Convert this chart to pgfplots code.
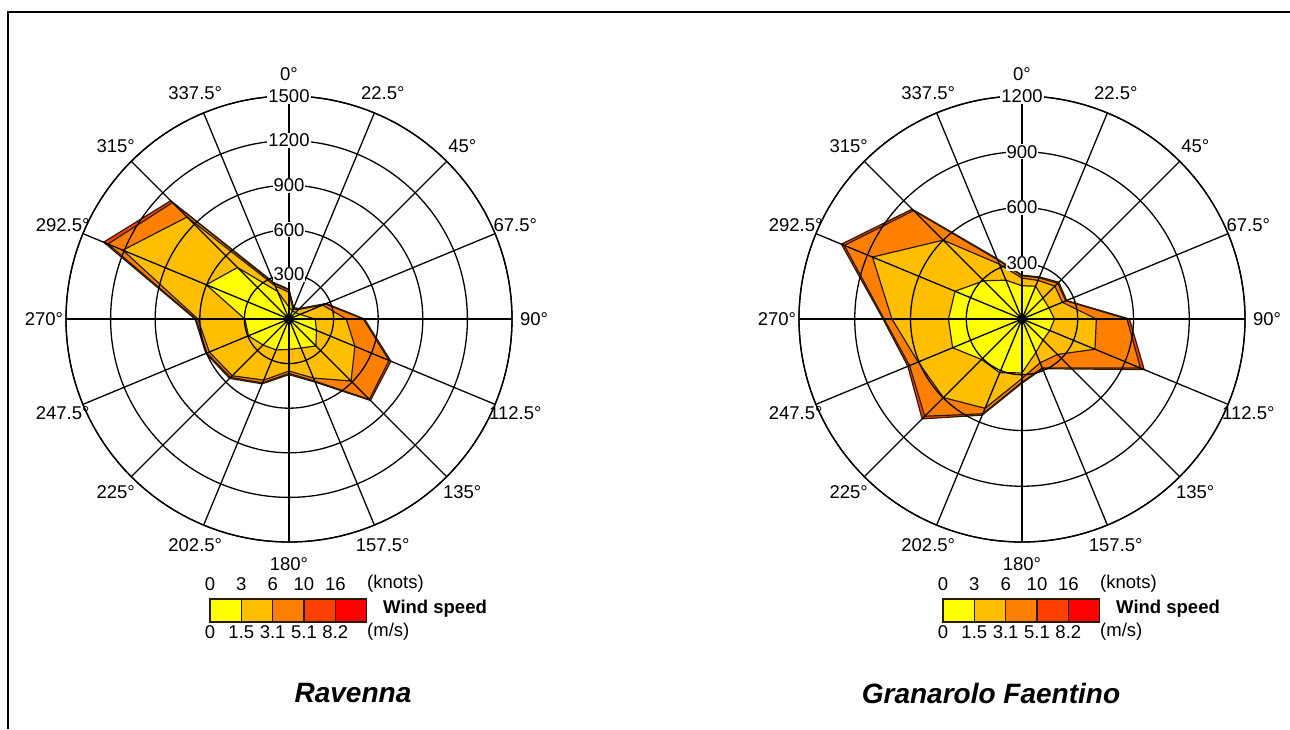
\documentclass[border=0pt]{standalone}
\usepackage{fontspec}
\setmainfont{Liberation Sans}
\usepackage{pgfplots}
\usepackage{pgfplotstable}
\pgfplotsset{compat=1.18}
\usepgfplotslibrary{polar}

\definecolor{wY}{HTML}{FFFF00}
\definecolor{wLO}{HTML}{FFBF00}
\definecolor{wO}{HTML}{FF8000}
\definecolor{wRO}{HTML}{FF4000}
\definecolor{wR}{HTML}{FF0000}
\definecolor{edge}{HTML}{2A1A00}

% a = polar angle (90 - compass direction); L1..L4 cumulative counts per wind speed class
\pgfplotstableread{
a L1 L2 L3 L4
90 80 180 194 200
67.5 60 70 78 82
45 60 90 97 100
22.5 80 245 265 272
0 176 385 500 508
337.5 200 480 728 742
315 256 590 765 775
292.5 211 430 452 460
270 205 350 366 374
247.5 225 445 465 472
225 247 540 556 565
202.5 295 580 598 605
180 297 613 626 632
157.5 602 1210 1318 1350
135 490 970 1108 1125
112.5 200 240 258 265
90 80 180 194 200
}\ravenna

\pgfplotstableread{
a L1 L2 L3 L4
90 179 220 232 236
67.5 191 225 240 245
45 159 250 272 280
22.5 157 235 255 260
0 175 400 565 578
337.5 162 425 690 712
315 160 270 372 380
292.5 195 255 285 290
270 290 320 340 345
247.5 313 520 552 560
225 308 598 740 760
202.5 404 605 655 665
180 396 700 742 748
157.5 390 871 1035 1052
135 291 600 825 836
112.5 226 320 345 352
90 179 220 232 236
}\granarolo

\pgfplotsset{
  roseaxis/.style={
    anchor=center,
    scale only axis, width=446pt, height=446pt,
    xmin=0, xmax=360, ymin=0,
    xtick={0,22.5,...,337.5}, xticklabels={},
    yticklabels={},
    grid=major,
    major grid style={black, line width=1.3pt},
    axis line style={black, line width=1.3pt},
    major tick length=0pt,
    extra x ticks={0,90,180,270}, extra x tick labels={},
    extra x tick style={grid=major, major grid style={black, line width=1.9pt}},
    axis on top, clip=false,
  },
  layer/.style={draw=edge, line width=1.2pt, line join=round, fill=#1},
}

\tikzset{
  lab/.style={font=\fontsize{18.5}{21}\selectfont, inner sep=1pt},
  ylab/.style={font=\fontsize{18.5}{21}\selectfont, fill=white, inner sep=1pt},
}

\begin{document}
\begin{tikzpicture}[x=1pt,y=1pt]
\path[use as bounding box] (0,0) rectangle (1290,729);
\draw[line width=2pt] (8,0) -- (8,717) -- (1290,717);

% ---------- Ravenna ----------
\begin{polaraxis}[roseaxis, at={(289pt,410pt)}, ymax=1500, ytick={300,600,...,1500}]
\addplot[layer=wRO] table[x=a,y=L4]{\ravenna};
\addplot[layer=wO]  table[x=a,y=L3]{\ravenna};
\addplot[layer=wLO] table[x=a,y=L2]{\ravenna};
\addplot[layer=wY]  table[x=a,y=L1]{\ravenna};
\end{polaraxis}

% ---------- Granarolo Faentino ----------
\begin{polaraxis}[roseaxis, at={(1022pt,410pt)}, ymax=1200, ytick={300,600,...,1200}]
\addplot[layer=wRO] table[x=a,y=L4]{\granarolo};
\addplot[layer=wO]  table[x=a,y=L3]{\granarolo};
\addplot[layer=wLO] table[x=a,y=L2]{\granarolo};
\addplot[layer=wY]  table[x=a,y=L1]{\granarolo};
\end{polaraxis}

% direction labels
\foreach \cx in {289,1022}{
  \foreach \c in {0,22.5,45,67.5,90,112.5,135,157.5,180,202.5,225,247.5,270,292.5,315,337.5}{
    \node[lab] at ([shift={(\cx,410)}]{90-\c}:245) {\c°};
  }
}
% radial value labels
\foreach \v in {300,600,900,1200,1500}{
  \node[ylab] at (289,{410+\v/1500*223}) {\v};
}
\foreach \v in {300,600,900,1200}{
  \node[ylab] at (1022,{410+\v/1200*223}) {\v};
}

% legends
\foreach \dx in {0,733}{
  \begin{scope}[xshift=\dx]
    \foreach \i/\col in {0/wY,1/wLO,2/wO,3/wRO,4/wR}{
      \fill[\col] ({210+\i*31.33},107) rectangle ({210+(\i+1)*31.33},130);
      \draw[line width=1.4pt, edge] ({210+\i*31.33},107) rectangle ({210+(\i+1)*31.33},130);
    }
    \foreach \i/\t in {0/0,1/3,2/6,3/10,4/16}{
      \node[lab] at ({210+\i*31.33},145) {\t};
    }
    \foreach \i/\t in {0/0,1/1.5,2/3.1,3/5.1,4/8.2}{
      \node[lab] at ({210+\i*31.33},97) {\t};
    }
    \node[lab, anchor=west] at (366,145) {(knots)};
    \node[lab, anchor=west] at (366,97) {(m/s)};
    \node[lab, anchor=west, font=\fontsize{18.5}{21}\selectfont\bfseries] at (382,120) {Wind speed};
  \end{scope}
}

% titles
\node[font=\fontsize{28}{32}\selectfont\bfseries\itshape] at (353,36) {Ravenna};
\node[font=\fontsize{28}{32}\selectfont\bfseries\itshape] at (991,36) {Granarolo Faentino};
\end{tikzpicture}
\end{document}
